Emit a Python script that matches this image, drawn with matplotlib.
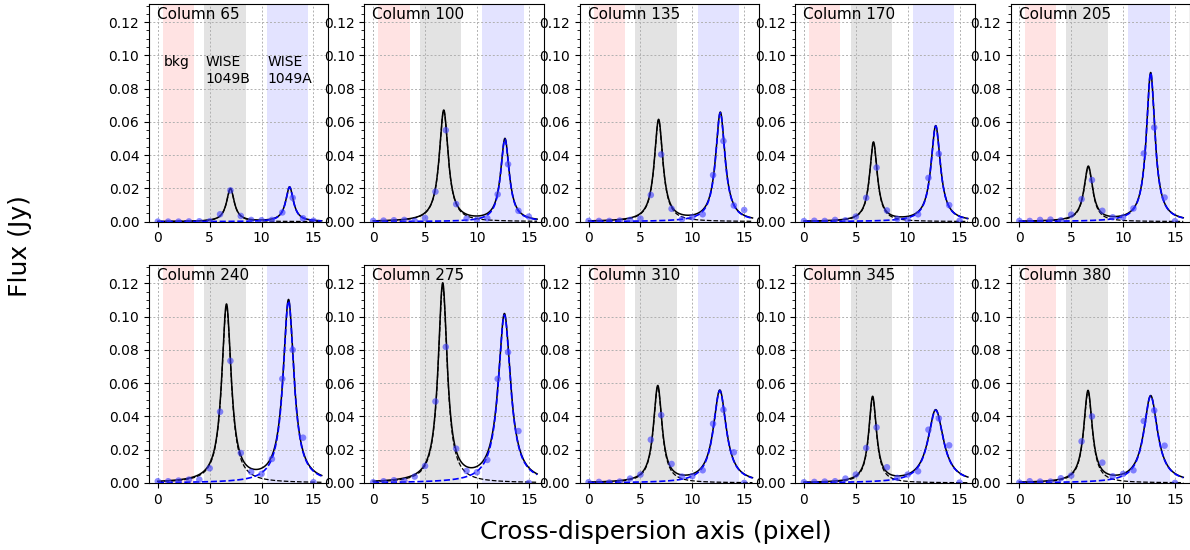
import numpy as np
import matplotlib.pyplot as plt
from matplotlib.ticker import AutoMinorLocator

# column numbers shown in each panel
columns = [65, 100, 135, 170, 205, 240, 275, 310, 345, 380]

# pixel positions of the measured points
pixels = np.arange(16)

# measured flux per column (Jy)
flux = [
    [0.0000, 0.0000, 0.0000, 0.0001, 0.0002, 0.0002, 0.0044, 0.0188, 0.0034, 0.0010, 0.0008, 0.0010, 0.0055, 0.0143, 0.0020, 0.0005],
    [0.0004, 0.0006, 0.0008, 0.0010, 0.0004, 0.0022, 0.0180, 0.0550, 0.0105, 0.0018, 0.0010, 0.0020, 0.0164, 0.0345, 0.0065, 0.0030],
    [0.0004, 0.0004, 0.0004, 0.0006, 0.0010, 0.0018, 0.0160, 0.0404, 0.0077, 0.0014, 0.0026, 0.0044, 0.0280, 0.0485, 0.0097, 0.0070],
    [0.0003, 0.0005, 0.0004, 0.0010, 0.0008, 0.0030, 0.0143, 0.0325, 0.0067, 0.0016, 0.0010, 0.0044, 0.0263, 0.0408, 0.0099, 0.0005],
    [0.0004, 0.0004, 0.0010, 0.0012, 0.0008, 0.0042, 0.0135, 0.0250, 0.0065, 0.0026, 0.0026, 0.0079, 0.0410, 0.0566, 0.0145, 0.0002],
    [0.0010, 0.0010, 0.0014, 0.0020, 0.0020, 0.0088, 0.0428, 0.0734, 0.0180, 0.0066, 0.0054, 0.0144, 0.0626, 0.0800, 0.0272, 0.0004],
    [0.0004, 0.0010, 0.0016, 0.0012, 0.0038, 0.0102, 0.0490, 0.0818, 0.0206, 0.0072, 0.0064, 0.0138, 0.0626, 0.0786, 0.0312, 0.0000],
    [0.0004, 0.0006, 0.0002, 0.0008, 0.0026, 0.0050, 0.0260, 0.0408, 0.0114, 0.0038, 0.0040, 0.0076, 0.0356, 0.0440, 0.0184, 0.0000],
    [0.0004, 0.0006, 0.0008, 0.0010, 0.0026, 0.0050, 0.0210, 0.0334, 0.0094, 0.0030, 0.0050, 0.0070, 0.0320, 0.0388, 0.0226, 0.0002],
    [0.0002, 0.0010, 0.0008, 0.0008, 0.0028, 0.0044, 0.0250, 0.0400, 0.0122, 0.0040, 0.0054, 0.0076, 0.0372, 0.0436, 0.0224, 0.0000],
]

# lorentzian fit parameters: WISE 1049B (left) and WISE 1049A (right)
b_amp = [0.0198, 0.0668, 0.0610, 0.0475, 0.0328, 0.1065, 0.1190, 0.0578, 0.0512, 0.0548]
b_cen = [7.00, 6.80, 6.75, 6.70, 6.65, 6.62, 6.70, 6.67, 6.62, 6.62]
b_wid = [0.45, 0.52, 0.50, 0.45, 0.50, 0.55, 0.53, 0.50, 0.45, 0.50]
a_amp = [0.0208, 0.0496, 0.0655, 0.0575, 0.0895, 0.1095, 0.1010, 0.0555, 0.0438, 0.0522]
a_cen = [12.70, 12.70, 12.70, 12.70, 12.66, 12.60, 12.65, 12.65, 12.70, 12.66]
a_wid = [0.45, 0.50, 0.55, 0.55, 0.50, 0.63, 0.72, 0.75, 0.90, 0.80]

regions = [(0.5, 3.5, 'red'), (4.5, 8.5, 'black'), (10.5, 14.5, 'blue')]


def lorentz(x, amp, cen, wid):
    return amp / (1 + ((x - cen) / wid) ** 2)


fig, axes = plt.subplots(2, 5, figsize=(11.9, 5.5), dpi=100)
fig.subplots_adjust(left=0.1252, right=1.0, bottom=0.122, top=0.993,
                    wspace=0.2, hspace=0.2)

xx = np.linspace(0, 15.8, 500)

for i, ax in enumerate(axes.flat):
    for lo, hi, c in regions:
        ax.axvspan(lo, hi, color=c, alpha=0.11, lw=0, zorder=0)

    comp_b = lorentz(xx, b_amp[i], b_cen[i], b_wid[i])
    comp_a = lorentz(xx, a_amp[i], a_cen[i], a_wid[i])
    ax.plot(xx, comp_b + comp_a, color='black', lw=1.1, zorder=3)
    ax.plot(xx, comp_b, color='black', lw=0.9, ls='--', zorder=3)
    ax.plot(xx, comp_a, color='blue', lw=1.2, ls='--', zorder=4)
    ax.scatter(pixels, flux[i], s=22, color='#3c3cff', alpha=0.6,
               edgecolors='none', zorder=5)

    ax.set_xlim(-0.85, 16.45)
    ax.set_ylim(0, 0.131)
    ax.set_xticks([0, 5, 10, 15])
    ax.set_yticks(np.arange(0, 0.121, 0.02))
    ax.yaxis.set_minor_locator(AutoMinorLocator(4))
    ax.tick_params(labelsize=10)
    ax.tick_params(which='minor', length=2)
    ax.grid(True, color='#b0b0b0', ls=(0, (2, 2)), lw=0.7)
    ax.set_axisbelow(True)
    ax.text(0.045, 0.985, 'Column %d' % columns[i], transform=ax.transAxes,
            ha='left', va='top', fontsize=11)

ax0 = axes[0, 0]
ax0.text(0.55, 0.1, 'bkg', fontsize=10, va='top')
ax0.text(4.6, 0.1, 'WISE\n1049B', fontsize=10, va='top')
ax0.text(10.6, 0.1, 'WISE\n1049A', fontsize=10, va='top')

fig.text(0.017, 0.553, 'Flux (Jy)', rotation=90, ha='center', va='center', fontsize=18)
fig.text(0.551, 0.033, 'Cross-dispersion axis (pixel)', ha='center', va='center', fontsize=18)

fig.savefig('out.png', dpi=100)
